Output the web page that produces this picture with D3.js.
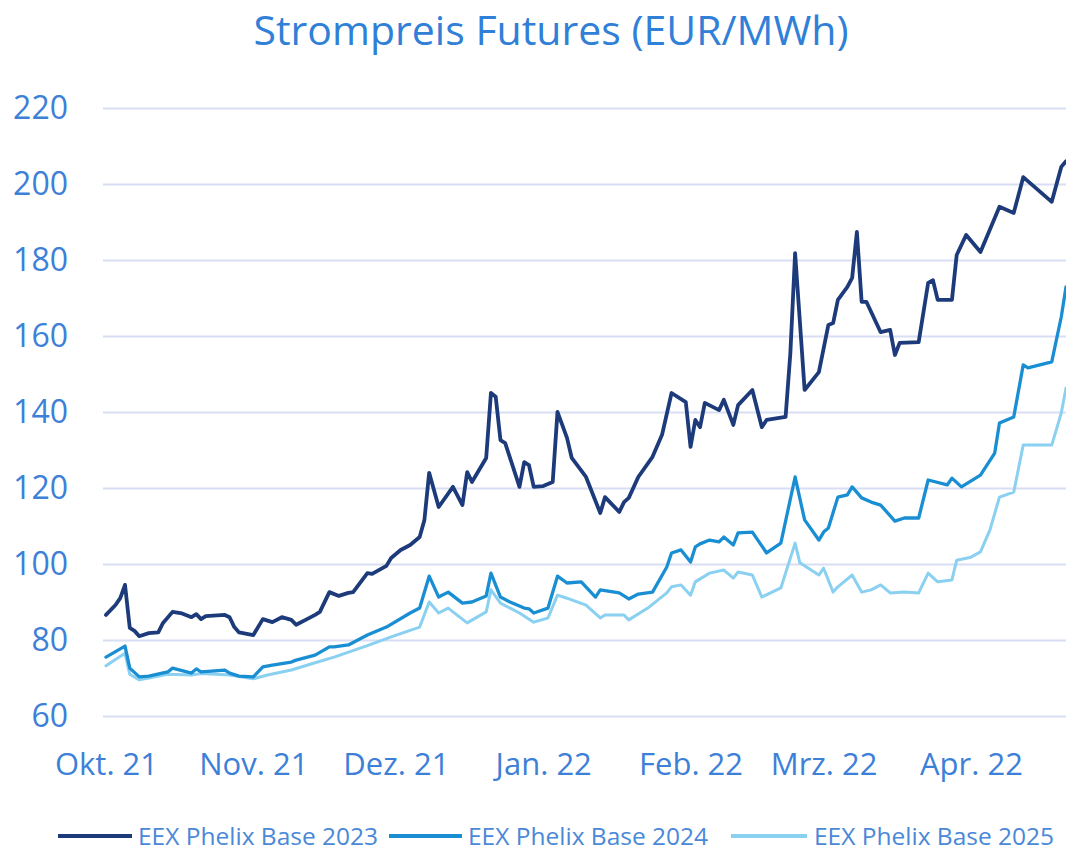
<!DOCTYPE html>
<html>
<head>
<meta charset="utf-8">
<script src="https://cdn.jsdelivr.net/npm/d3@7"></script>
<style>
  html, body { margin: 0; padding: 0; background: #ffffff; }
  svg { display: block; }
  text { font-family: "Open Sans", "Noto Sans", sans-serif; }
</style>
</head>
<body>
<svg id="chart" width="1066" height="851"></svg>
<script>
// Chart title and series names
const title = "Strompreis Futures (EUR/MWh)";
const seriesNames = ["EEX Phelix Base 2023", "EEX Phelix Base 2024", "EEX Phelix Base 2025"];
const seriesColors = ["#1d3b7a", "#1a8ed3", "#8ad0f1"];

// Y-axis ticks and month labels
const yTicks = [60, 80, 100, 120, 140, 160, 180, 200, 220];
const monthTicks = ["2021-10-01", "2021-11-01", "2021-12-01", "2022-01-01", "2022-02-01", "2022-03-01", "2022-04-01"];
const monthLabels = ["Okt. 21", "Nov. 21", "Dez. 21", "Jan. 22", "Feb. 22", "Mrz. 22", "Apr. 22"];

// Price series, EUR/MWh
const base2023 = [
  ["2021-10-01", 86.6], ["2021-10-03", 89.2], ["2021-10-04", 91.0], ["2021-10-05", 94.5],
  ["2021-10-06", 83.2], ["2021-10-07", 82.4], ["2021-10-08", 81.0], ["2021-10-10", 81.8],
  ["2021-10-12", 82.0], ["2021-10-13", 84.5], ["2021-10-15", 87.4], ["2021-10-17", 87.0],
  ["2021-10-19", 86.0], ["2021-10-20", 86.8], ["2021-10-21", 85.5], ["2021-10-22", 86.3],
  ["2021-10-26", 86.6], ["2021-10-27", 86.0], ["2021-10-28", 83.4], ["2021-10-29", 82.0],
  ["2021-11-01", 81.3], ["2021-11-03", 85.5], ["2021-11-05", 84.7], ["2021-11-07", 86.0],
  ["2021-11-09", 85.3], ["2021-11-10", 84.0], ["2021-11-12", 85.3], ["2021-11-14", 86.6],
  ["2021-11-15", 87.4], ["2021-11-17", 92.6], ["2021-11-19", 91.6], ["2021-11-21", 92.4],
  ["2021-11-22", 92.6], ["2021-11-25", 97.6], ["2021-11-26", 97.4], ["2021-11-29", 99.5],
  ["2021-11-30", 101.6], ["2021-12-02", 103.7], ["2021-12-04", 105.0], ["2021-12-06", 107.1],
  ["2021-12-07", 111.6], ["2021-12-08", 124.0], ["2021-12-10", 115.0], ["2021-12-13", 120.3],
  ["2021-12-15", 115.5], ["2021-12-16", 124.2], ["2021-12-17", 121.6], ["2021-12-20", 127.9],
  ["2021-12-21", 145.0], ["2021-12-22", 144.0], ["2021-12-23", 132.6], ["2021-12-24", 131.8],
  ["2021-12-27", 120.3], ["2021-12-28", 126.8], ["2021-12-29", 126.0], ["2021-12-30", 120.3],
  ["2022-01-01", 120.5], ["2022-01-03", 121.6], ["2022-01-04", 140.0], ["2022-01-05", 136.6],
  ["2022-01-06", 133.2], ["2022-01-07", 127.9], ["2022-01-10", 122.9], ["2022-01-13", 113.4],
  ["2022-01-14", 117.6], ["2022-01-17", 113.7], ["2022-01-18", 116.3], ["2022-01-19", 117.4],
  ["2022-01-21", 122.9], ["2022-01-24", 128.2], ["2022-01-26", 134.0], ["2022-01-28", 145.0],
  ["2022-01-31", 142.6], ["2022-02-01", 130.8], ["2022-02-02", 137.9], ["2022-02-03", 136.0],
  ["2022-02-04", 142.4], ["2022-02-07", 140.5], ["2022-02-08", 143.2], ["2022-02-10", 136.6],
  ["2022-02-11", 141.8], ["2022-02-14", 145.8], ["2022-02-16", 136.0], ["2022-02-17", 137.9],
  ["2022-02-21", 138.7], ["2022-02-22", 155.5], ["2022-02-23", 181.8], ["2022-02-25", 145.8],
  ["2022-02-28", 150.5], ["2022-03-02", 162.9], ["2022-03-03", 163.4], ["2022-03-04", 169.5],
  ["2022-03-06", 172.9], ["2022-03-07", 175.3], ["2022-03-08", 187.4], ["2022-03-09", 169.0],
  ["2022-03-10", 169.0], ["2022-03-13", 161.0], ["2022-03-15", 161.6], ["2022-03-16", 155.0],
  ["2022-03-17", 158.2], ["2022-03-21", 158.4], ["2022-03-23", 174.0], ["2022-03-24", 174.7],
  ["2022-03-25", 169.5], ["2022-03-28", 169.5], ["2022-03-29", 181.3], ["2022-03-31", 186.6],
  ["2022-04-03", 182.1], ["2022-04-07", 194.0], ["2022-04-10", 192.4], ["2022-04-12", 201.8],
  ["2022-04-18", 195.3], ["2022-04-20", 204.5], ["2022-04-21", 206.0]
];

const base2024 = [
  ["2021-10-01", 75.5], ["2021-10-05", 78.4], ["2021-10-06", 72.6], ["2021-10-08", 70.3],
  ["2021-10-10", 70.5], ["2021-10-14", 71.6], ["2021-10-15", 72.6], ["2021-10-19", 71.3],
  ["2021-10-20", 72.4], ["2021-10-21", 71.6], ["2021-10-26", 72.1], ["2021-10-27", 71.3],
  ["2021-10-29", 70.5], ["2021-11-01", 70.3], ["2021-11-03", 72.9], ["2021-11-05", 73.4],
  ["2021-11-09", 74.2], ["2021-11-10", 74.7], ["2021-11-14", 76.0], ["2021-11-17", 78.2],
  ["2021-11-18", 78.2], ["2021-11-21", 78.7], ["2021-11-25", 81.3], ["2021-11-29", 83.4],
  ["2021-12-04", 87.1], ["2021-12-06", 88.4], ["2021-12-08", 96.8], ["2021-12-10", 91.3],
  ["2021-12-12", 92.6], ["2021-12-15", 89.7], ["2021-12-17", 90.0], ["2021-12-20", 91.6],
  ["2021-12-21", 97.6], ["2021-12-23", 91.3], ["2021-12-25", 90.0], ["2021-12-28", 88.4],
  ["2021-12-29", 88.2], ["2021-12-30", 87.1], ["2022-01-02", 88.4], ["2022-01-04", 96.8],
  ["2022-01-06", 95.0], ["2022-01-09", 95.3], ["2022-01-12", 91.3], ["2022-01-13", 93.2],
  ["2022-01-17", 92.4], ["2022-01-19", 90.8], ["2022-01-21", 92.1], ["2022-01-24", 92.6],
  ["2022-01-27", 99.2], ["2022-01-28", 102.9], ["2022-01-30", 103.7], ["2022-02-01", 100.5],
  ["2022-02-02", 104.5], ["2022-02-03", 105.3], ["2022-02-05", 106.3], ["2022-02-07", 105.8],
  ["2022-02-08", 107.1], ["2022-02-10", 105.0], ["2022-02-11", 108.2], ["2022-02-14", 108.4],
  ["2022-02-17", 102.9], ["2022-02-20", 105.5], ["2022-02-23", 122.9], ["2022-02-25", 111.6],
  ["2022-02-28", 106.3], ["2022-03-01", 108.4], ["2022-03-02", 109.5], ["2022-03-04", 117.6],
  ["2022-03-06", 118.2], ["2022-03-07", 120.3], ["2022-03-09", 117.4], ["2022-03-11", 116.3],
  ["2022-03-13", 115.5], ["2022-03-16", 111.3], ["2022-03-18", 112.1], ["2022-03-21", 112.1],
  ["2022-03-23", 122.1], ["2022-03-27", 120.8], ["2022-03-28", 122.6], ["2022-03-30", 120.3],
  ["2022-04-03", 123.4], ["2022-04-06", 129.2], ["2022-04-07", 137.1], ["2022-04-10", 138.7],
  ["2022-04-12", 152.4], ["2022-04-13", 151.6], ["2022-04-18", 153.2], ["2022-04-20", 165.0],
  ["2022-04-21", 172.9]
];

const base2025 = [
  ["2021-10-01", 73.2], ["2021-10-05", 76.5], ["2021-10-06", 71.0], ["2021-10-08", 69.5],
  ["2021-10-10", 70.0], ["2021-10-14", 71.0], ["2021-10-19", 70.8], ["2021-10-21", 71.2],
  ["2021-10-27", 70.8], ["2021-11-01", 69.8], ["2021-11-04", 70.8], ["2021-11-09", 72.1],
  ["2021-11-14", 74.0], ["2021-11-18", 75.5], ["2021-11-25", 78.5], ["2021-11-30", 80.8],
  ["2021-12-06", 83.4], ["2021-12-08", 90.0], ["2021-12-10", 87.1], ["2021-12-12", 88.4],
  ["2021-12-16", 84.5], ["2021-12-20", 87.4], ["2021-12-21", 93.2], ["2021-12-23", 89.7],
  ["2021-12-27", 87.1], ["2021-12-30", 84.7], ["2022-01-02", 85.8], ["2022-01-04", 91.8],
  ["2022-01-06", 91.0], ["2022-01-10", 89.2], ["2022-01-13", 85.8], ["2022-01-14", 86.6],
  ["2022-01-18", 86.6], ["2022-01-19", 85.3], ["2022-01-23", 88.4], ["2022-01-27", 92.4],
  ["2022-01-28", 94.0], ["2022-01-30", 94.5], ["2022-02-01", 91.8], ["2022-02-02", 95.3],
  ["2022-02-05", 97.6], ["2022-02-08", 98.4], ["2022-02-10", 96.3], ["2022-02-11", 97.9],
  ["2022-02-14", 97.1], ["2022-02-16", 91.3], ["2022-02-20", 93.7], ["2022-02-23", 105.5],
  ["2022-02-24", 100.3], ["2022-02-28", 97.1], ["2022-03-01", 98.9], ["2022-03-03", 92.6],
  ["2022-03-04", 94.0], ["2022-03-07", 97.1], ["2022-03-09", 92.6], ["2022-03-11", 93.2],
  ["2022-03-13", 94.5], ["2022-03-15", 92.4], ["2022-03-18", 92.6], ["2022-03-21", 92.4],
  ["2022-03-23", 97.6], ["2022-03-25", 95.3], ["2022-03-28", 95.8], ["2022-03-29", 101.0],
  ["2022-04-01", 101.8], ["2022-04-03", 103.2], ["2022-04-05", 109.0], ["2022-04-07", 117.6],
  ["2022-04-10", 118.9], ["2022-04-12", 131.3], ["2022-04-18", 131.3], ["2022-04-20", 139.7],
  ["2022-04-21", 146.3]
];

const series = [base2023, base2024, base2025];

const parse = d3.utcParse("%Y-%m-%d");
const svg = d3.select("#chart");

const x = d3.scaleUtc()
  .domain([parse("2021-10-01"), parse("2022-04-21")])
  .range([106, 1066]);

const y = d3.scaleLinear()
  .domain([60, 220])
  .range([716, 108]);

const textColor = "#3d80d8";

// Title
svg.append("text")
  .attr("x", 551)
  .attr("y", 45)
  .attr("text-anchor", "middle")
  .attr("font-size", 41)
  .attr("fill", "#3180d8")
  .text(title);

// Horizontal gridlines with value labels
const yAxis = d3.axisLeft(y)
  .tickValues(yTicks)
  .tickSize(-(1066 - 103))
  .tickPadding(35)
  .tickFormat(d3.format("d"));

const gy = svg.append("g")
  .attr("transform", "translate(103,0)")
  .call(yAxis);
gy.select(".domain").remove();
gy.selectAll(".tick line")
  .attr("stroke", "#d8def3")
  .attr("stroke-width", 2);
gy.selectAll(".tick text")
  .attr("fill", textColor)
  .attr("font-size", 32)
  .attr("font-family", "'Open Sans', 'Noto Sans', sans-serif");

// Month labels along the bottom
const xAxis = d3.axisBottom(x)
  .tickValues(monthTicks.map(parse))
  .tickSize(0)
  .tickPadding(0)
  .tickFormat((d, i) => monthLabels[i]);

const gx = svg.append("g")
  .attr("transform", "translate(0,753)")
  .call(xAxis);
gx.select(".domain").remove();
gx.selectAll(".tick text")
  .attr("fill", textColor)
  .attr("font-size", 31)
  .attr("dy", "0.71em")
  .attr("font-family", "'Open Sans', 'Noto Sans', sans-serif");

// Price lines, later contracts drawn first so the 2023 line sits on top
const line = d3.line()
  .x(d => x(parse(d[0])))
  .y(d => y(d[1]))
  .curve(d3.curveLinear);

const widths = [3.8, 3.3, 3.0];
[2, 1, 0].forEach(i => {
  svg.append("path")
    .datum(series[i])
    .attr("fill", "none")
    .attr("stroke", seriesColors[i])
    .attr("stroke-width", widths[i])
    .attr("stroke-linejoin", "round")
    .attr("stroke-linecap", "round")
    .attr("d", line);
});

// Legend
const legendItems = [
  { x1: 58, x2: 132, tx: 138 },
  { x1: 389, x2: 462, tx: 468 },
  { x1: 731, x2: 807, tx: 814 }
];
const legendY = 836;
const lg = svg.append("g");
legendItems.forEach((it, i) => {
  lg.append("line")
    .attr("x1", it.x1).attr("x2", it.x2)
    .attr("y1", legendY).attr("y2", legendY)
    .attr("stroke", seriesColors[i])
    .attr("stroke-width", 4);
  lg.append("text")
    .attr("x", it.tx)
    .attr("y", legendY)
    .attr("dy", "0.35em")
    .attr("font-size", 24.5)
    .attr("fill", "#4a88d8")
    .text(seriesNames[i]);
});
</script>
</body>
</html>
